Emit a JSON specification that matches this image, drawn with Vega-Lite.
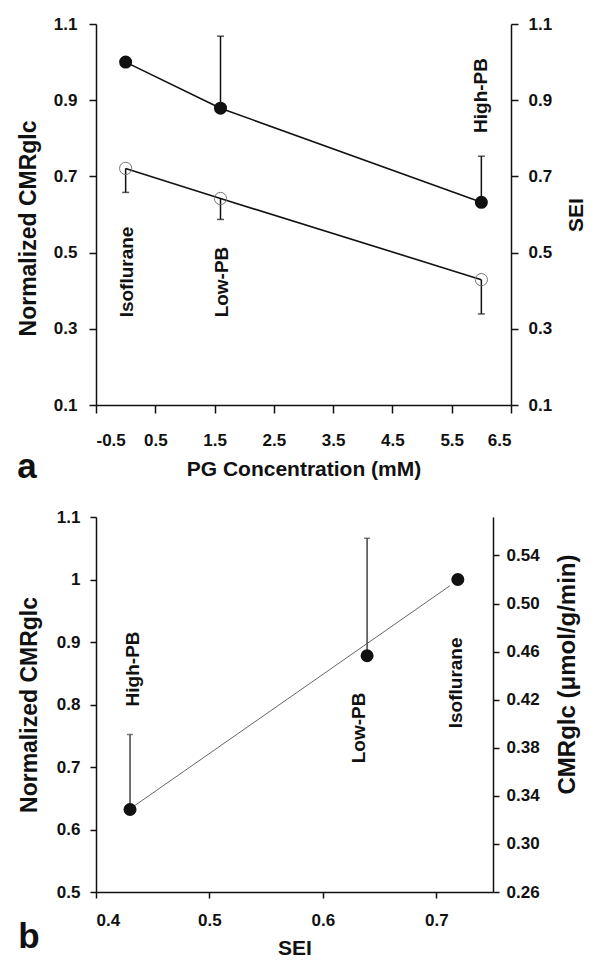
{
  "$schema": "https://vega.github.io/schema/vega-lite/v6.json",
  "padding": {"left": 17, "top": 15, "right": 5, "bottom": 5},
  "background": "white",
  "config": {
    "font": "Liberation Sans",
    "view": {"stroke": null},
    "axis": {
      "grid": false,
      "domainColor": "#111",
      "domainWidth": 1.5,
      "tickColor": "#111",
      "tickWidth": 1.5,
      "tickSize": 7,
      "labelFont": "Liberation Sans",
      "labelFontSize": 17,
      "labelFontWeight": "bold",
      "labelColor": "#111",
      "titleFont": "Liberation Sans",
      "titleFontSize": 21,
      "titleFontWeight": "bold",
      "titleColor": "#111",
      "labelPadding": 11,
      "titlePadding": 12
    }
  },
  "datasets": {
    "a": [
      {"pg": 0, "cmr": 1.0, "cmr_hi": null, "sei": 0.721, "sei_lo": 0.658},
      {"pg": 1.6, "cmr": 0.879, "cmr_hi": 1.068, "sei": 0.642, "sei_lo": 0.587},
      {"pg": 6, "cmr": 0.632, "cmr_hi": 0.753, "sei": 0.429, "sei_lo": 0.339}
    ],
    "a_labels": [
      {"x": 0.02, "y": 0.33, "label": "Isoflurane"},
      {"x": 1.62, "y": 0.33, "label": "Low-PB"},
      {"x": 6.0, "y": 0.814, "label": "High-PB"}
    ],
    "b": [
      {"sei": 0.43, "cmr": 0.632, "cmr_hi": 0.752},
      {"sei": 0.639, "cmr": 0.878, "cmr_hi": 1.066},
      {"sei": 0.719, "cmr": 1.0, "cmr_hi": null}
    ],
    "b_fit": [
      {"sei": 0.43, "cmr": 0.633},
      {"sei": 0.712, "cmr": 0.99}
    ],
    "b_labels": [
      {"x": 0.433, "y": 0.797, "label": "High-PB"},
      {"x": 0.632, "y": 0.706, "label": "Low-PB"},
      {"x": 0.717, "y": 0.762, "label": "Isoflurane"}
    ],
    "b_abs": [
      {"sei": 0.719, "abs": 0.522}
    ]
  },
  "columns": 1,
  "concat": [
    {
      "width": 415,
      "height": 381,
      "title": {"text": "a", "orient": "bottom", "anchor": "start", "frame": "bounds", "fontSize": 35, "fontWeight": "bold", "font": "Liberation Sans", "color": "#111", "dy": -29, "offset": 0},
      "layer": [
        {
          "encoding": {
            "x": {"field": "pg", "type": "quantitative", "scale": {"domain": [-0.5, 6.5], "nice": false, "zero": false},
              "axis": {"values": [-0.5, 0.5, 1.5, 2.5, 3.5, 4.5, 5.5, 6.5], "labelExpr": "datum.value < 0 ? '-' + format(-datum.value, '.1f') : format(datum.value, '.1f')", "title": "PG Concentration (mM)", "tickSize": 8, "labelPadding": 19, "titlePadding": 10}}
          },
          "layer": [
            {"data": {"name": "a"}, "mark": {"type": "line", "color": "#111", "strokeWidth": 1.6},
              "encoding": {"y": {"field": "cmr", "type": "quantitative", "scale": {"domain": [0.1, 1.1], "nice": false, "zero": false},
                "axis": {"values": [0.1, 0.3, 0.5, 0.7, 0.9, 1.1], "format": ".1f", "title": "Normalized CMRglc", "titleFontSize": 23, "titleY": 204, "labelPadding": 12, "titlePadding": 13}}}},
            {"data": {"name": "a"}, "mark": {"type": "line", "color": "#111", "strokeWidth": 1.6},
              "encoding": {"y": {"field": "sei", "type": "quantitative", "title": "Normalized CMRglc"}}},
            {"data": {"name": "a"}, "transform": [{"filter": "datum.cmr_hi != null"}], "mark": {"type": "rule", "color": "#111", "strokeWidth": 1.5},
              "encoding": {"y": {"field": "cmr", "type": "quantitative", "title": "Normalized CMRglc"}, "y2": {"field": "cmr_hi"}}},
            {"data": {"name": "a"}, "transform": [{"filter": "datum.cmr_hi != null"}], "mark": {"type": "tick", "orient": "horizontal", "color": "#111", "size": 7, "thickness": 1.5},
              "encoding": {"y": {"field": "cmr_hi", "type": "quantitative", "title": "Normalized CMRglc"}}},
            {"data": {"name": "a"}, "mark": {"type": "rule", "color": "#111", "strokeWidth": 1.5},
              "encoding": {"y": {"field": "sei", "type": "quantitative", "title": "Normalized CMRglc"}, "y2": {"field": "sei_lo"}}},
            {"data": {"name": "a"}, "mark": {"type": "tick", "orient": "horizontal", "color": "#111", "size": 7, "thickness": 1.5},
              "encoding": {"y": {"field": "sei_lo", "type": "quantitative", "title": "Normalized CMRglc"}}},
            {"data": {"name": "a"}, "mark": {"type": "point", "filled": false, "stroke": "#777", "strokeWidth": 1, "size": 150, "opacity": 1},
              "encoding": {"y": {"field": "sei", "type": "quantitative", "title": "Normalized CMRglc"}}},
            {"data": {"name": "a"}, "mark": {"type": "point", "filled": true, "color": "#111", "size": 170, "opacity": 1},
              "encoding": {"y": {"field": "cmr", "type": "quantitative", "title": "Normalized CMRglc"}}},
            {"data": {"name": "a_labels"}, "mark": {"type": "text", "angle": 270, "align": "left", "baseline": "middle", "font": "Liberation Sans", "fontSize": 19, "fontWeight": "bold", "color": "#111"},
              "encoding": {"x": {"field": "x", "type": "quantitative"}, "y": {"field": "y", "type": "quantitative", "title": "Normalized CMRglc"}, "text": {"field": "label"}}}
          ]
        },
        {
          "data": {"name": "a"},
          "mark": {"type": "point", "opacity": 0},
          "encoding": {
            "x": {"field": "pg", "type": "quantitative"},
            "y": {"field": "sei", "type": "quantitative", "scale": {"domain": [0.1, 1.1], "nice": false, "zero": false},
              "axis": {"orient": "right", "values": [0.1, 0.3, 0.5, 0.7, 0.9, 1.1], "format": ".1f", "title": "SEI", "titleAngle": 270, "titleBaseline": "top", "labelPadding": 10, "titlePadding": 14}}
          }
        }
      ],
      "resolve": {"scale": {"y": "independent"}}
    },
    {
      "width": 397,
      "height": 375,
      "title": {"text": "b", "orient": "bottom", "anchor": "start", "frame": "bounds", "fontSize": 35, "fontWeight": "bold", "font": "Liberation Sans", "color": "#111", "dy": -38, "offset": 0},
      "layer": [
        {
          "encoding": {
            "x": {"field": "sei", "type": "quantitative", "scale": {"domain": [0.4, 0.75], "nice": false, "zero": false},
              "axis": {"values": [0.4, 0.5, 0.6, 0.7], "format": ".1f", "title": "SEI", "tickSize": 6, "labelPadding": 14, "titlePadding": 9}}
          },
          "layer": [
            {"data": {"name": "b_fit"}, "mark": {"type": "line", "color": "#666", "strokeWidth": 1},
              "encoding": {"y": {"field": "cmr", "type": "quantitative", "scale": {"domain": [0.5, 1.1], "nice": false, "zero": false},
                "axis": {"values": [0.5, 0.6, 0.7, 0.8, 0.9, 1.0, 1.1], "format": "~g", "title": "Normalized CMRglc", "titleFontSize": 23, "tickSize": 6, "labelPadding": 10, "titlePadding": 15}}}},
            {"data": {"name": "b"}, "transform": [{"filter": "datum.cmr_hi != null"}], "mark": {"type": "rule", "color": "#444", "strokeWidth": 1.5},
              "encoding": {"y": {"field": "cmr", "type": "quantitative", "title": "Normalized CMRglc"}, "y2": {"field": "cmr_hi"}}},
            {"data": {"name": "b"}, "transform": [{"filter": "datum.cmr_hi != null"}], "mark": {"type": "tick", "orient": "horizontal", "color": "#444", "size": 6, "thickness": 1.5},
              "encoding": {"y": {"field": "cmr_hi", "type": "quantitative", "title": "Normalized CMRglc"}}},
            {"data": {"name": "b"}, "mark": {"type": "point", "filled": true, "color": "#111", "size": 170, "opacity": 1},
              "encoding": {"y": {"field": "cmr", "type": "quantitative", "title": "Normalized CMRglc"}}},
            {"data": {"name": "b_labels"}, "mark": {"type": "text", "angle": 270, "align": "left", "baseline": "middle", "font": "Liberation Sans", "fontSize": 19, "fontWeight": "bold", "color": "#111"},
              "encoding": {"x": {"field": "x", "type": "quantitative"}, "y": {"field": "y", "type": "quantitative", "title": "Normalized CMRglc"}, "text": {"field": "label"}}}
          ]
        },
        {
          "data": {"name": "b_abs"},
          "mark": {"type": "point", "opacity": 0},
          "encoding": {
            "x": {"field": "sei", "type": "quantitative"},
            "y": {"field": "abs", "type": "quantitative", "scale": {"domain": [0.26, 0.572], "nice": false, "zero": false},
              "axis": {"orient": "right", "values": [0.26, 0.30, 0.34, 0.38, 0.42, 0.46, 0.50, 0.54], "format": ".2f", "title": "CMRglc (μmol/g/min)", "titleAngle": 270, "titleBaseline": "top", "titleFontSize": 24, "titleY": 157, "tickSize": 6, "labelPadding": 7, "titlePadding": 16}}
          }
        }
      ],
      "resolve": {"scale": {"y": "independent"}}
    }
  ],
  "spacing": 23,
  "align": "none"
}
